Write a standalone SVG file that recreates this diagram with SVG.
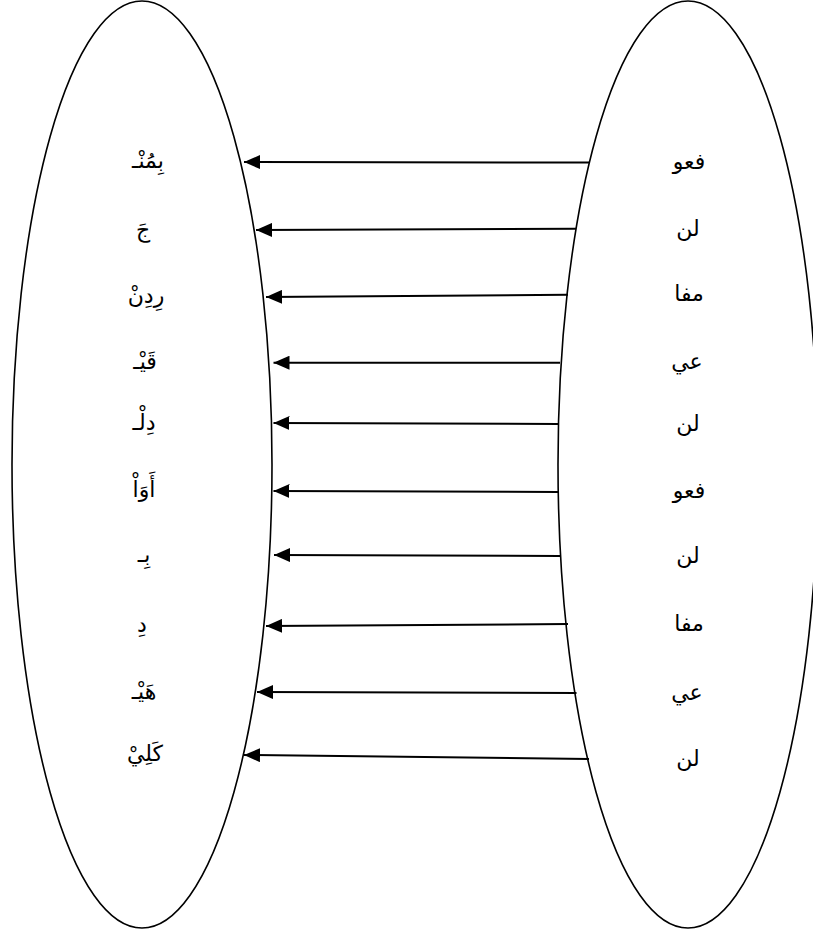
<svg xmlns="http://www.w3.org/2000/svg" width="813" height="934" viewBox="0 0 813 934">
<style>
.ell{fill:none;stroke:#000;stroke-width:1.6}
.conn line{stroke:#000;stroke-width:2}
text{font-family:"DejaVu Sans","Noto Sans",sans-serif;font-size:22px;fill:#000;text-anchor:middle}
</style>
<defs>
<marker id="ah" viewBox="0 0 16 14" refX="16" refY="7" markerWidth="16" markerHeight="14" markerUnits="userSpaceOnUse" orient="auto">
<path d="M0,0 L16,7 L0,14 Z" fill="#000"/>
</marker>
</defs>
<g id="left-set">
<ellipse class="ell" cx="142" cy="464.5" rx="130" ry="463.5"/>
<text x="148" y="168" direction="rtl">بِمُنْـ</text>
<text x="143" y="237" direction="rtl">جَ</text>
<text x="146" y="303" direction="rtl">رِدِنْ</text>
<text x="145" y="369" direction="rtl">قَيْـ</text>
<text x="144" y="430" direction="rtl">دِلْـ</text>
<text x="144" y="497" direction="rtl">أَوَاْ</text>
<text x="144" y="562" direction="rtl">بِـ</text>
<text x="142" y="632" direction="rtl">دِ</text>
<text x="144" y="699" direction="rtl">هَيْـ</text>
<text x="145" y="761" direction="rtl">كَلِيْ</text>
</g>
<g id="right-set">
<ellipse class="ell" cx="688" cy="464.5" rx="130" ry="463.5"/>
<text x="689" y="169" direction="rtl">فعو</text>
<text x="688" y="236" direction="rtl">لن</text>
<text x="689" y="301" direction="rtl">مفا</text>
<text x="687" y="369" direction="rtl">عي</text>
<text x="688" y="431" direction="rtl">لن</text>
<text x="689" y="498" direction="rtl">فعو</text>
<text x="688" y="563" direction="rtl">لن</text>
<text x="689" y="631" direction="rtl">مفا</text>
<text x="687" y="700" direction="rtl">عي</text>
<text x="688" y="766" direction="rtl">لن</text>
</g>
<g id="connectors" class="conn">
<line x1="589" y1="162.5" x2="244" y2="162" marker-end="url(#ah)"/>
<line x1="576" y1="228.7" x2="256" y2="230" marker-end="url(#ah)"/>
<line x1="568" y1="294.7" x2="266" y2="297" marker-end="url(#ah)"/>
<line x1="560" y1="362.7" x2="273.5" y2="362.7" marker-end="url(#ah)"/>
<line x1="558.5" y1="424" x2="273.5" y2="423" marker-end="url(#ah)"/>
<line x1="558.5" y1="492" x2="273.5" y2="491" marker-end="url(#ah)"/>
<line x1="560" y1="556" x2="274" y2="555" marker-end="url(#ah)"/>
<line x1="568" y1="624" x2="266" y2="626" marker-end="url(#ah)"/>
<line x1="576.5" y1="693" x2="257" y2="692" marker-end="url(#ah)"/>
<line x1="589" y1="759" x2="244" y2="755" marker-end="url(#ah)"/>
</g>
</svg>
